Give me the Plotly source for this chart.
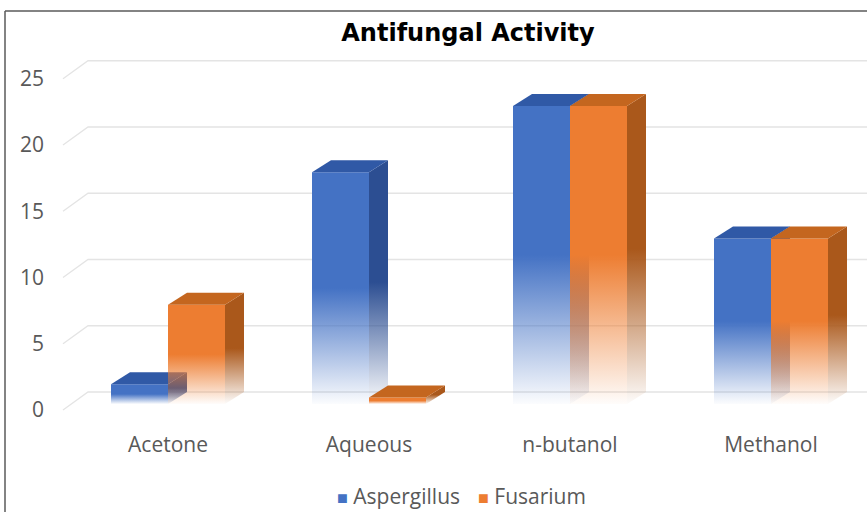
import plotly.graph_objects as go

# ---- data -------------------------------------------------------------
categories = ["Acetone", "Aqueous", "n-butanol", "Methanol"]
series_names = ["Aspergillus", "Fusarium"]
aspergillus = [1.5, 17.5, 22.5, 12.5]
fusarium = [7.5, 0.5, 22.5, 12.5]
y_ticks = [0, 5, 10, 15, 20, 25]

# ---- styling ----------------------------------------------------------
FRONT = {"Aspergillus": (68, 114, 196), "Fusarium": (237, 125, 49)}
TOP = {"Aspergillus": "#3059A6", "Fusarium": "#C4661F"}
SIDE = {"Aspergillus": (44, 78, 146), "Fusarium": (170, 88, 27)}
LABEL_GREY = "#595959"
GRID_GREY = "#E4E4E4"

W, H = 867, 512
# pixel layout of the pseudo-3D box
X0_PX, X_STEP_PX = 168, 201      # first category centre and spacing
Y0_PX, Y_UNIT_PX = 404, 13.25    # value 0 on the bar front plane, px per unit
BAR_W_PX = 57
DEPTH_DX_PX, DEPTH_DY_PX = 19, 12
LABEL_DROP_PX = 6                # side-wall front edge sits below bar fronts
WALL_FRONT_X_PX, WALL_BACK_X_PX = 63, 88


def px_to_x(px):
    return (px - X0_PX) / X_STEP_PX


def px_to_y(py):
    return (Y0_PX - py) / Y_UNIT_PX


bar_w = BAR_W_PX / X_STEP_PX
ddx = DEPTH_DX_PX / X_STEP_PX
ddy = DEPTH_DY_PX / Y_UNIT_PX


def rgba(c, a):
    return f"rgba({c[0]},{c[1]},{c[2]},{a})"


def fade_scale(c):
    # colour fades out towards the floor over the lower half of the bar
    return [[0.0, rgba(c, 0.02)], [0.5, rgba(c, 1.0)], [1.0, rgba(c, 1.0)]]


fig = go.Figure()

# back-wall gridlines with the short slanted run along the side wall
gx, gy = [], []
for v in y_ticks:
    gx += [px_to_x(WALL_FRONT_X_PX), px_to_x(WALL_BACK_X_PX), px_to_x(W + 5), None]
    gy += [v - LABEL_DROP_PX / Y_UNIT_PX, v + ddy, v + ddy, None]
fig.add_trace(go.Scatter(x=gx, y=gy, mode="lines",
                         line=dict(color=GRID_GREY, width=1.3),
                         hoverinfo="skip", showlegend=False))


def add_face(xs, ys, solid=None, grad=None):
    kw = dict(x=xs, y=ys, mode="none", fill="toself",
              hoverinfo="skip", showlegend=False)
    if grad is not None:
        c, start, stop = grad
        kw["fillgradient"] = dict(type="vertical", start=start, stop=stop,
                                  colorscale=fade_scale(c))
    else:
        kw["fillcolor"] = solid
    fig.add_trace(go.Scatter(**kw))


values = {"Aspergillus": aspergillus, "Fusarium": fusarium}
for i, cat in enumerate(categories):
    for s, name in enumerate(series_names):
        v = values[name][i]
        left = i - bar_w + s * bar_w
        right = left + bar_w
        # side face
        add_face([right, right + ddx, right + ddx, right, right],
                 [0, ddy, v + ddy, v, 0],
                 grad=(SIDE[name], 0, v + ddy))
        # front face
        add_face([left, right, right, left, left],
                 [0, 0, v, v, 0],
                 grad=(FRONT[name], 0, v))
        # top face
        add_face([left, right, right + ddx, left + ddx, left],
                 [v, v, v + ddy, v + ddy, v],
                 solid=TOP[name])

label_font = dict(family="Open Sans", size=21, color=LABEL_GREY)

fig.update_layout(
    width=W, height=H, autosize=False,
    margin=dict(l=0, r=0, t=0, b=0),
    paper_bgcolor="white", plot_bgcolor="white",
    showlegend=False,
    title=dict(text="Antifungal Activity", x=468 / W, xanchor="center",
               y=1 - 33 / H, yanchor="middle",
               font=dict(family="DejaVu Sans", size=24, color="black",
                         weight="bold")),
    xaxis=dict(range=[px_to_x(0), px_to_x(W)], anchor="free",
               position=1 - 430 / H,
               tickmode="array", tickvals=list(range(len(categories))),
               ticktext=categories, ticks="", showline=False,
               showgrid=False, zeroline=False, tickfont=label_font,
               fixedrange=True),
    yaxis=dict(range=[px_to_y(H), px_to_y(0)], anchor="free",
               position=44 / W,
               tickmode="array", tickvals=y_ticks, ticks="",
               ticklabelshift=LABEL_DROP_PX,
               showline=False, showgrid=False, zeroline=False,
               tickfont=label_font, fixedrange=True),
    shapes=[
        dict(type="line", xref="paper", yref="paper",
             x0=5 / W, x1=5 / W, y0=0, y1=1 - 11 / H,
             line=dict(color="#5A5A5A", width=1.5)),
        dict(type="line", xref="paper", yref="paper",
             x0=5 / W, x1=1, y0=1 - 11 / H, y1=1 - 11 / H,
             line=dict(color="#5A5A5A", width=1.5)),
    ],
)

# legend entries: colour swatch followed by the series name
legend_x_px = {"Aspergillus": 335, "Fusarium": 476}
for name in series_names:
    sw = FRONT[name]
    fig.add_annotation(
        xref="paper", yref="paper", x=legend_x_px[name] / W, y=1 - 496 / H,
        xanchor="left", yanchor="middle", showarrow=False,
        text=(f'<span style="color:{rgba(sw, 1)};font-size:18px">■</span>'
              f" {name}"),
        font=label_font,
    )

fig.write_html("out.html")
